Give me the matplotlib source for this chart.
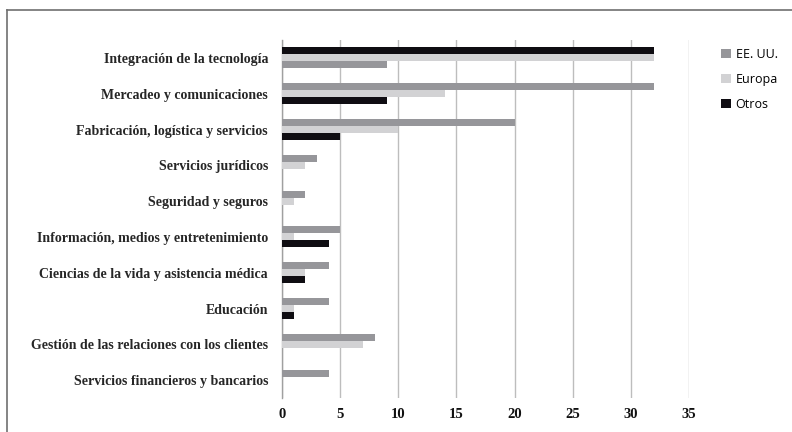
import matplotlib
matplotlib.use("Agg")
import matplotlib.pyplot as plt
from matplotlib.lines import Line2D
from matplotlib.patches import Patch
import numpy as np

categories = [
    "Integración de la tecnología",
    "Mercadeo y comunicaciones",
    "Fabricación, logística y servicios",
    "Servicios jurídicos",
    "Seguridad y seguros",
    "Información, medios y entretenimiento",
    "Ciencias de la vida y asistencia médica",
    "Educación",
    "Gestión de las relaciones con los clientes",
    "Servicios financieros y bancarios",
]
series_names = ["EE. UU.", "Europa", "Otros"]
eeuu = [9, 32, 20, 3, 2, 5, 4, 4, 8, 4]
europa = [32, 14, 10, 2, 1, 1, 2, 1, 7, 0]
otros = [32, 9, 5, 0, 0, 4, 2, 1, 0, 0]
xticks = [0, 5, 10, 15, 20, 25, 30, 35]

colors = ["#96969a", "#d2d2d4", "#0f0d12"]
values = [eeuu, europa, otros]

fig = plt.figure(figsize=(7.92, 4.32), dpi=100)
ax = fig.add_axes([282/792, 1-398/432, (689-282)/792, (398-40)/432])

y = np.arange(len(categories))
h = 0.196
for si, (vals, col) in enumerate(zip(values, colors)):
    offs = []
    for ci in range(len(categories)):
        slot = si if ci != 0 else 2 - si  # first group drawn in reversed order
        offs.append((slot - 1) * h)
    ax.barh(y + np.array(offs), vals, height=h, color=col, zorder=3)

ax.set_ylim(len(categories) - 0.5, -0.5)
ax.set_xlim(0, 35)
ax.set_xticks(xticks)
ax.set_xticklabels([str(t) for t in xticks], fontfamily="Liberation Serif",
                   fontweight="bold", fontsize=10.5, color="#111111")
ax.set_yticks(y)
ax.set_yticklabels(categories, fontfamily="Liberation Serif", fontsize=10,
                   fontweight="bold", color="#262626")
ax.tick_params(axis="both", length=0)
ax.tick_params(axis="y", pad=10)
ax.tick_params(axis="x", pad=7)
ax.xaxis.grid(True, color="#bdbdbd", lw=1.0, zorder=0)
ax.set_axisbelow(True)
for s in ["top", "right", "bottom"]:
    ax.spines[s].set_visible(False)
ax.spines["left"].set_color("#a0a0a0")
ax.spines["left"].set_linewidth(1.0)

handles = [Patch(facecolor=c, edgecolor="none") for c in colors]
leg = fig.legend(handles, series_names, loc="upper left",
                 bbox_to_anchor=(710/792, 1-37/432), frameon=False,
                 prop={"family": "Open Sans", "size": 9},
                 handlelength=0.75, handleheight=0.75, handletextpad=0.4,
                 labelspacing=0.95)

# outer frame (top and left edges)
fig.add_artist(Line2D([7/792, 1], [1-10/432, 1-10/432], transform=fig.transFigure,
                      color="#707070", lw=1.2))
fig.add_artist(Line2D([7/792, 7/792], [0, 1-10/432], transform=fig.transFigure,
                      color="#707070", lw=1.2))

fig.savefig("out.png", dpi=100)
